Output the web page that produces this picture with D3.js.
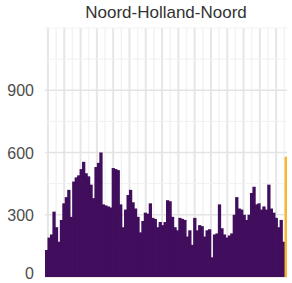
<!DOCTYPE html>
<html>
<head>
<meta charset="utf-8">
<script src="https://cdn.jsdelivr.net/npm/d3@7"></script>
<style>
  body { margin: 0; background: #fff; }
  svg { display: block; font-family: "Liberation Sans", Arial, sans-serif; }
</style>
</head>
<body>
<div class="container"></div>
<script>
// weekly counts, last week highlighted
let title = "Noord-Holland-Noord";
let counts = [
  130, 190, 205, 315, 240, 170, 275, 355, 385, 420, 290, 460, 480, 490, 520, 555,
  500, 485, 445, 380, 530, 550, 600, 350, 345, 340, 335, 525, 520, 515, 350, 240,
  325, 395, 420, 360, 330, 290, 215, 270, 310, 305, 355, 285, 280, 240, 265, 250,
  265, 370, 365, 290, 240, 225, 285, 280, 275, 195, 225, 155, 285, 225, 250, 245,
  195, 225, 230, 95, 205, 210, 350, 235, 205, 190, 200, 210, 300, 385, 330, 325,
  300, 275, 300, 405, 435, 350, 355, 325, 340, 325, 445, 330, 310, 285, 240, 275,
  170, 580
];
let yTicks = [0, 300, 600, 900];
let yMinor = [150, 450, 750, 1050, 1200];

let width = 292, height = 283;
let margin = {top: 28, right: 5, bottom: 6, left: 45};

let svg = d3.select(".container").append("svg")
    .attr("width", width)
    .attr("height", height);

let x = d3.scaleBand()
    .domain(d3.range(counts.length))
    .range([margin.left, width - margin.right])
    .paddingInner(0);

let y = d3.scaleLinear()
    .domain([0, 1200])
    .range([height - margin.bottom, margin.top]);

let g = svg.append("g");

// vertical grid, major + minor
let gx = d3.scaleLinear().domain([0, counts.length]).range([margin.left, width - margin.right]);
let vMajor = d3.range(1.2, counts.length, 6.6);
let vMinor = d3.range(4.5, counts.length, 6.6);

g.selectAll(".vminor").data(vMinor).enter().append("line")
    .attr("x1", d => gx(d)).attr("x2", d => gx(d))
    .attr("y1", y(1200)).attr("y2", y(0))
    .style("stroke", "#f3f3f3").style("stroke-width", 1.5);
g.selectAll(".vmajor").data(vMajor).enter().append("line")
    .attr("x1", d => gx(d)).attr("x2", d => gx(d))
    .attr("y1", y(1200)).attr("y2", y(0))
    .style("stroke", "#e6e6e6").style("stroke-width", 2);

g.selectAll(".hminor").data(yMinor).enter().append("line")
    .attr("x1", margin.left).attr("x2", width - margin.right)
    .attr("y1", d => y(d)).attr("y2", d => y(d))
    .style("stroke", "#f1f1f1").style("stroke-width", 1);
g.selectAll(".hmajor").data(yTicks).enter().append("line")
    .attr("x1", margin.left).attr("x2", width - margin.right)
    .attr("y1", d => y(d)).attr("y2", d => y(d))
    .style("stroke", "#e4e4e4").style("stroke-width", 1.5);

// bars
g.selectAll(".bar").data(counts).enter().append("rect")
    .attr("x", (d, i) => x(i))
    .attr("width", (d, i) => i == counts.length - 1 ? x.bandwidth() : x.bandwidth() + 0.8)
    .attr("y", d => y(d))
    .attr("height", d => y(0) - y(d))
    .style("fill", (d, i) => i == counts.length - 1 ? "#f7b733" : "#410d5d");

// y labels
svg.selectAll(".ylab").data(yTicks).enter().append("text")
    .attr("x", 34)
    .attr("y", d => Math.min(y(d) + 6, 279))
    .attr("text-anchor", "end")
    .style("font-size", "16px")
    .style("fill", "#4d4d4d")
    .text(d => d);

svg.append("text")
    .attr("x", (margin.left + width - margin.right) / 2)
    .attr("y", 18)
    .attr("text-anchor", "middle")
    .style("font-size", "17px")
    .style("fill", "#333")
    .text(title);
</script>
</body>
</html>
